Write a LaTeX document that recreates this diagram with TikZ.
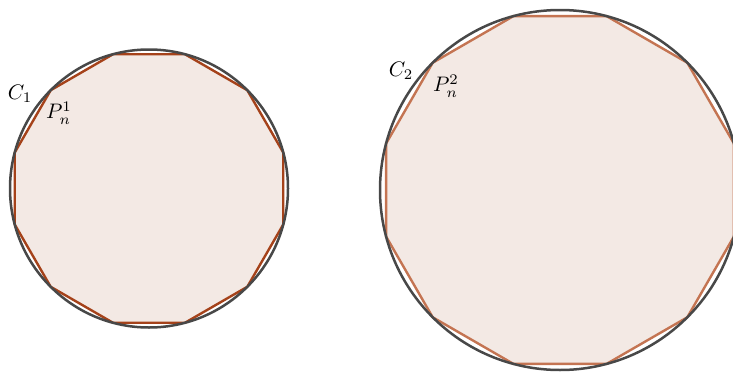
\documentclass[tikz,border=0pt]{standalone}
\usetikzlibrary{positioning}
\definecolor{ringgray}{RGB}{72,72,72}
\definecolor{polyfill}{RGB}{243,233,228}
\definecolor{polydark}{RGB}{165,66,26}
\definecolor{polylight}{RGB}{196,116,82}
\tikzset{
  ring/.style={draw=ringgray,line width=2.5pt},
  poly/.style={fill=polyfill,line width=2.4pt,line join=round},
  lab/.style={scale=2.1}
}

\begin{document}
\begin{tikzpicture}[x=1pt,y=-1pt]
  \useasboundingbox (0,0) rectangle (733,372);
  \clip (0,0) rectangle (733,372);
  % left circle and 12-gon
  \begin{scope}[shift={(149,188.5)}]
    \draw[poly,draw=polydark] (15:139) \foreach \a in {45,75,...,345} { -- (\a:139) } -- cycle;
    \draw[ring] (0,0) circle (139);
  \end{scope}
  % right circle and 12-gon
  \begin{scope}[shift={(560,190)}]
    \draw[poly,draw=polylight] (15:180) \foreach \a in {45,75,...,345} { -- (\a:180) } -- cycle;
    \draw[ring] (0,0) circle (180);
  \end{scope}
  \node[lab] (c1) at (20,94) {$C_1$};
  \node[lab] (p1) at (59,113) {$P_n^1$};
  \node[lab] (c2) at (401,71) {$C_2$};
  \node[lab] (p2) at (446,86) {$P_n^2$};
\end{tikzpicture}
\end{document}
